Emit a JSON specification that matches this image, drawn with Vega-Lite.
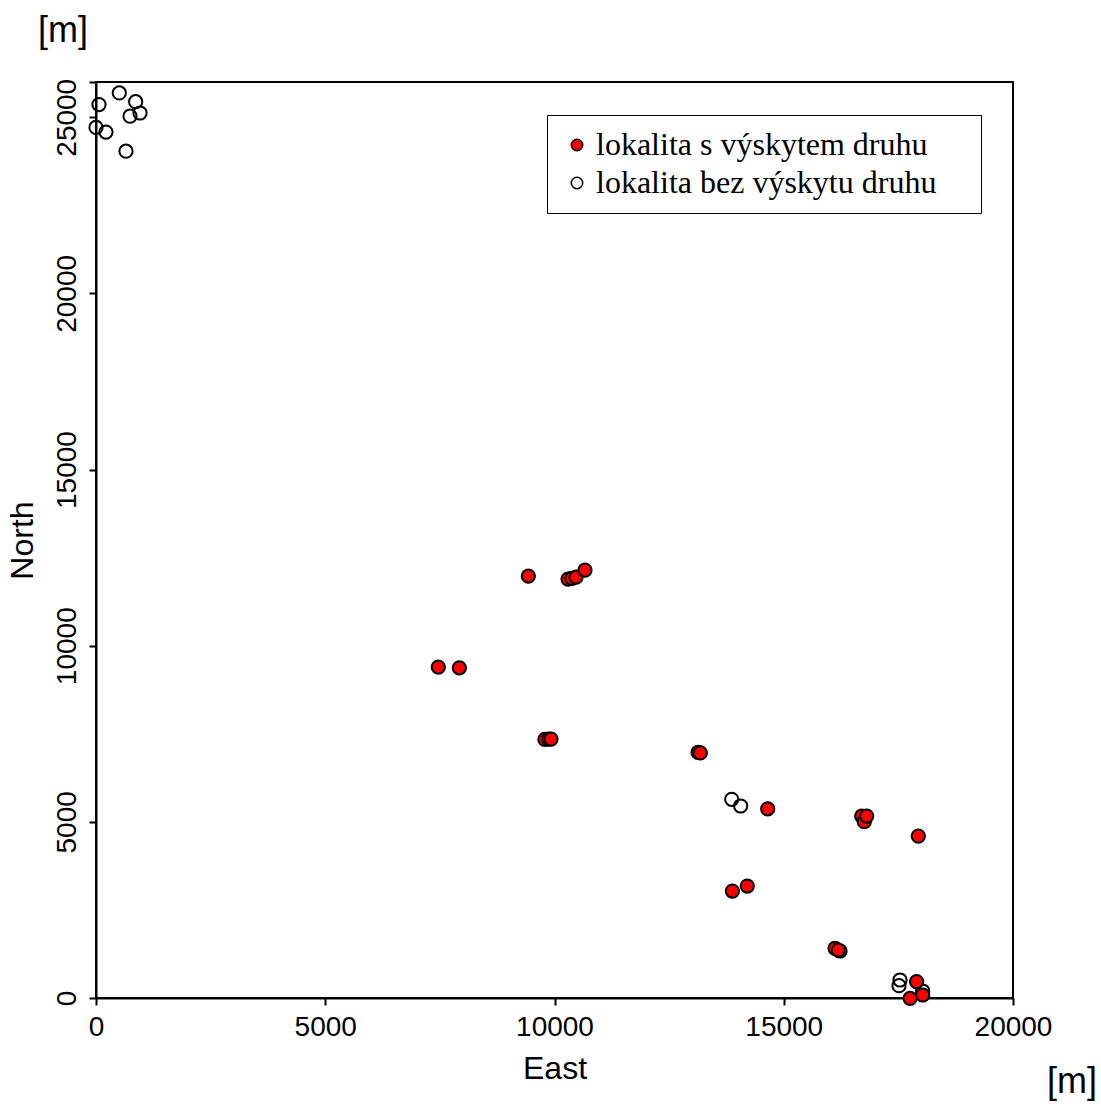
{
  "$schema": "https://vega.github.io/schema/vega-lite/v6.json",
  "width": 917,
  "height": 916,
  "autosize": "none",
  "padding": {"left": 96, "top": 82, "right": 88, "bottom": 106},
  "background": "white",
  "config": {
    "view": {"stroke": "black", "strokeWidth": 2},
    "axis": {
      "domainColor": "black", "domainWidth": 2, "tickColor": "black", "tickWidth": 2, "tickSize": 7,
      "grid": false, "labelFont": "Liberation Sans", "labelFontSize": 28, "labelColor": "black",
      "titleFont": "Liberation Sans", "titleFontSize": 32, "titleFontWeight": "normal", "titleColor": "black"
    }
  },
  "title": {"text": "[m]", "orient": "top", "anchor": "start", "frame": "group", "font": "Liberation Sans", "fontSize": 36, "fontWeight": "normal", "color": "black", "dx": -58, "offset": 28},
  "datasets": {
    "pts": [
      {"East": 508, "North": 25690, "druh": "lokalita bez výskytu druhu"},
      {"East": 865, "North": 25440, "druh": "lokalita bez výskytu druhu"},
      {"East": 960, "North": 25120, "druh": "lokalita bez výskytu druhu"},
      {"East": 742, "North": 25030, "druh": "lokalita bez výskytu druhu"},
      {"East": 65, "North": 25360, "druh": "lokalita bez výskytu druhu"},
      {"East": 0, "North": 24710, "druh": "lokalita bez výskytu druhu"},
      {"East": 218, "North": 24580, "druh": "lokalita bez výskytu druhu"},
      {"East": 654, "North": 24035, "druh": "lokalita bez výskytu druhu"},
      {"East": 13865, "North": 5640, "druh": "lokalita bez výskytu druhu"},
      {"East": 14060, "North": 5450, "druh": "lokalita bez výskytu druhu"},
      {"East": 16227, "North": 1334, "druh": "lokalita bez výskytu druhu"},
      {"East": 17535, "North": 511, "druh": "lokalita bez výskytu druhu"},
      {"East": 17514, "North": 350, "druh": "lokalita bez výskytu druhu"},
      {"East": 18030, "North": 199, "druh": "lokalita bez výskytu druhu"},
      {"East": 9430, "North": 11975, "druh": "lokalita s výskytem druhu"},
      {"East": 10295, "North": 11890, "druh": "lokalita s výskytem druhu"},
      {"East": 10380, "North": 11910, "druh": "lokalita s výskytem druhu"},
      {"East": 10470, "North": 11946, "druh": "lokalita s výskytem druhu"},
      {"East": 10665, "North": 12145, "druh": "lokalita s výskytem druhu"},
      {"East": 7466, "North": 9393, "druh": "lokalita s výskytem druhu"},
      {"East": 7925, "North": 9373, "druh": "lokalita s výskytem druhu"},
      {"East": 9790, "North": 7340, "druh": "lokalita s výskytem druhu"},
      {"East": 9870, "North": 7345, "druh": "lokalita s výskytem druhu"},
      {"East": 9924, "North": 7350, "druh": "lokalita s výskytem druhu"},
      {"East": 13130, "North": 6975, "druh": "lokalita s výskytem druhu"},
      {"East": 13180, "North": 6955, "druh": "lokalita s výskytem druhu"},
      {"East": 14650, "North": 5370, "druh": "lokalita s výskytem druhu"},
      {"East": 16700, "North": 5165, "druh": "lokalita s výskytem druhu"},
      {"East": 16757, "North": 5003, "druh": "lokalita s výskytem druhu"},
      {"East": 16810, "North": 5165, "druh": "lokalita s výskytem druhu"},
      {"East": 17935, "North": 4597, "druh": "lokalita s výskytem druhu"},
      {"East": 13880, "North": 3036, "druh": "lokalita s výskytem druhu"},
      {"East": 14205, "North": 3178, "druh": "lokalita s výskytem druhu"},
      {"East": 16118, "North": 1410, "druh": "lokalita s výskytem druhu"},
      {"East": 16190, "North": 1362, "druh": "lokalita s výskytem druhu"},
      {"East": 17898, "North": 463, "druh": "lokalita s výskytem druhu"},
      {"East": 17754, "North": -10, "druh": "lokalita s výskytem druhu"},
      {"East": 18030, "North": 85, "druh": "lokalita s výskytem druhu"}
    ],
    "units": [{"East": 20000, "North": 0, "label": "[m]"}]
  },
  "layer": [
    {
      "data": {"name": "pts"},
      "mark": {"type": "point", "shape": "circle", "size": 175, "stroke": "black", "strokeWidth": 2, "opacity": 1, "filled": false},
      "encoding": {
        "x": {"field": "East", "type": "quantitative", "scale": {"domain": [0, 20000], "nice": false, "zero": false},
          "axis": {"values": [0, 5000, 10000, 15000, 20000], "format": "d", "title": "East", "labelPadding": 8, "titlePadding": 12, "labelFlush": false, "labelOverlap": false}},
        "y": {"field": "North", "type": "quantitative", "scale": {"domain": [0, 26000], "nice": false, "zero": false},
          "axis": {"values": [0, 5000, 10000, 15000, 20000, 25000, 26000], "format": "d", "labelExpr": "datum.value == 26000 ? '' : datum.label", "labelAngle": -90, "labelAlign": "center", "labelBaseline": "bottom", "labelPadding": 8, "labelFlush": false, "labelOverlap": false, "title": "North", "titlePadding": 14}},
        "fill": {"field": "druh", "type": "nominal",
          "scale": {"domain": ["lokalita s výskytem druhu", "lokalita bez výskytu druhu"], "range": ["#ff0000", "transparent"]},
          "legend": {
            "title": null, "orient": "none", "legendX": 451, "legendY": 33,
            "labelFont": "Liberation Serif", "labelFontSize": 32, "labelColor": "black",
            "labelExpr": "datum.label + '\u00a0\u00a0\u00a0\u2009\u200b'",
            "labelLimit": 700, "symbolType": "circle", "symbolSize": 130, "symbolStrokeWidth": 1.5,
            "labelOffset": 3, "padding": 14, "rowPadding": 6,
            "strokeColor": "black", "fillColor": "white",
            "encode": {
              "legend": {"update": {"strokeWidth": {"value": 2}}},
              "symbols": {"update": {"stroke": {"signal": "datum.value === 'lokalita s výskytem druhu' ? '#ff0000' : 'black'"}, "strokeWidth": {"value": 1.5}, "opacity": {"value": 1}}}
            }
          }
        }
      }
    },
    {
      "data": {"name": "units"},
      "mark": {"type": "text", "font": "Liberation Sans", "fontSize": 36, "color": "black", "dx": 59, "dy": 84, "align": "center", "baseline": "middle"},
      "encoding": {
        "x": {"field": "East", "type": "quantitative"},
        "y": {"field": "North", "type": "quantitative"},
        "text": {"field": "label"}
      }
    }
  ]
}
